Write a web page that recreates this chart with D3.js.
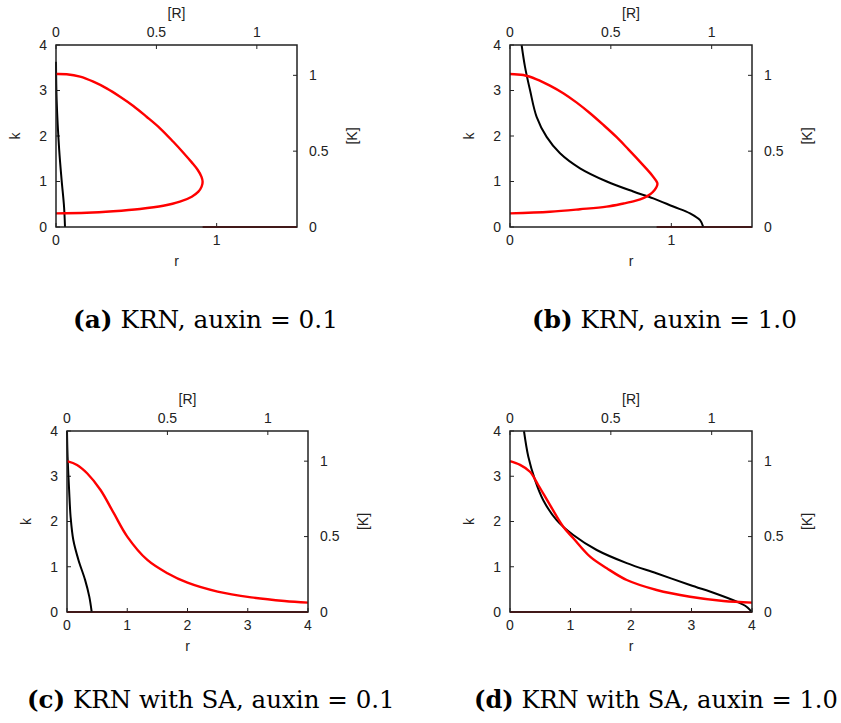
<!DOCTYPE html>
<html lang="en">
<head>
<meta charset="UTF-8">
<title>KRN phase planes</title>
<script src="https://d3js.org/d3.v7.min.js"></script>
<style>
    body { margin: 0; background: #fff; }
    .tick-label { font-family: "Liberation Sans", Arial, sans-serif; font-size: 14px; fill: #222; }
    .caption { font-family: "DejaVu Serif", serif; font-size: 24px; fill: #000; }
</style>
</head>
<body>
<svg id="fig" width="841" height="723"></svg>
<script>
// tick values
const kTicks = [0, 1, 2, 3, 4];
const rTicksShort = [0, 1];
const rTicksLong = [0, 1, 2, 3, 4];
const bigRTicks = [0, 0.5, 1];
const bigKTicks = [0, 0.5, 1];

// red curves: [R] vs [K] (top / right axes)
const redA = [[0, 1.009], [0.053, 1.007], [0.120, 0.991], [0.186, 0.958], [0.252, 0.914], [0.319, 0.859],
    [0.385, 0.798], [0.451, 0.727], [0.518, 0.651], [0.584, 0.562], [0.634, 0.490], [0.676, 0.426],
    [0.706, 0.376], [0.724, 0.332], [0.730, 0.299], [0.725, 0.266], [0.709, 0.233], [0.676, 0.2],
    [0.617, 0.167], [0.534, 0.140], [0.418, 0.119], [0.285, 0.104], [0.153, 0.094], [0, 0.090]];
const redB = [[0, 1.009], [0.066, 1.002], [0.132, 0.974], [0.198, 0.932], [0.264, 0.882], [0.331, 0.820],
    [0.397, 0.750], [0.463, 0.673], [0.529, 0.592], [0.587, 0.512], [0.636, 0.443], [0.677, 0.383],
    [0.707, 0.337], [0.724, 0.306], [0.731, 0.288], [0.728, 0.268], [0.716, 0.243], [0.695, 0.216],
    [0.664, 0.192], [0.620, 0.172], [0.563, 0.155], [0.479, 0.134], [0.347, 0.117], [0.198, 0.101], [0, 0.090]];
const redC = [[0, 1.0], [0.05, 0.975], [0.1, 0.92], [0.167, 0.809], [0.233, 0.655], [0.3, 0.5],
    [0.4, 0.345], [0.5, 0.257], [0.6, 0.194], [0.75, 0.135], [0.917, 0.097], [1.083, 0.073], [1.2, 0.062]];
const redD = [[0, 1.0], [0.05, 0.975], [0.099, 0.93], [0.14, 0.842], [0.198, 0.71], [0.264, 0.565],
    [0.314, 0.489], [0.397, 0.367], [0.48, 0.29], [0.579, 0.212], [0.727, 0.146], [0.893, 0.101],
    [1.058, 0.073], [1.2, 0.062]];

// dark red branch along [K] = 0
const darkA = [[0.73, 0], [1.2, 0]];
const darkB = [[0.727, 0], [1.2, 0]];
const darkC = [[0, 0], [1.2, 0]];
const darkD = [[0, 0], [1.2, 0]];

// black curves: r vs k (bottom / left axes)
const blackA = [[0.0, 3.63], [0.004, 2.79], [0.02, 1.69], [0.035, 1.03], [0.05, 0.45], [0.056, 0]];
const blackB = [[0.072, 4.0], [0.093, 3.52], [0.124, 3.01], [0.165, 2.42], [0.227, 1.98], [0.31, 1.62],
    [0.434, 1.29], [0.60, 1.0], [0.764, 0.78], [0.888, 0.63], [1.012, 0.45], [1.116, 0.30], [1.178, 0.15], [1.198, 0]];
const blackC = [[0, 4.0], [0.01, 3.43], [0.035, 2.7], [0.06, 2.1], [0.105, 1.59], [0.19, 1.15],
    [0.3, 0.71], [0.37, 0.34], [0.41, 0]];
const blackD = [[0.231, 4.0], [0.303, 3.43], [0.413, 2.92], [0.55, 2.47], [0.771, 2.03], [1.046, 1.70],
    [1.433, 1.37], [1.93, 1.08], [2.42, 0.855], [2.975, 0.597], [3.42, 0.398], [3.75, 0.227],
    [3.91, 0.117], [3.995, 0]];

const captions = [
    ["(a)", " KRN, auxin = 0.1"],
    ["(b)", " KRN, auxin = 1.0"],
    ["(c)", " KRN with SA, auxin = 0.1"],
    ["(d)", " KRN with SA, auxin = 1.0"]
];

const svg = d3.select("#fig");
svg.append("rect").attr("width", 841).attr("height", 723).attr("fill", "#fff");

function drawPanel(p) {
    const x1 = p.x + p.w, y1 = p.y + p.h;
    const xr = d3.scaleLinear().domain([0, p.rMax]).range([p.x, x1]);
    const yk = d3.scaleLinear().domain([0, 4]).range([y1, p.y]);
    const xR = d3.scaleLinear().domain([0, 1.2]).range([p.x, x1]);
    const yK = d3.scaleLinear().domain([0, 1.2]).range([y1, p.y]);

    const g = svg.append("g");
    const tl = 4;

    // left k ticks
    p.kTicks.forEach(v => {
        g.append("line").attr("x1", p.x).attr("x2", p.x + tl).attr("y1", yk(v)).attr("y2", yk(v))
            .attr("stroke", "#222");
        g.append("text").attr("class", "tick-label").attr("x", p.x - 9).attr("y", yk(v))
            .attr("dy", "0.35em").attr("text-anchor", "end").text(v);
    });
    // bottom r ticks
    p.rTicks.forEach(v => {
        g.append("line").attr("x1", xr(v)).attr("x2", xr(v)).attr("y1", y1).attr("y2", y1 - tl)
            .attr("stroke", "#222");
        g.append("text").attr("class", "tick-label").attr("x", xr(v)).attr("y", y1 + 13)
            .attr("dy", "0.35em").attr("text-anchor", "middle").text(v);
    });
    // top [R] ticks
    bigRTicks.forEach(v => {
        g.append("line").attr("x1", xR(v)).attr("x2", xR(v)).attr("y1", p.y).attr("y2", p.y + tl)
            .attr("stroke", "#222");
        g.append("text").attr("class", "tick-label").attr("x", xR(v)).attr("y", p.y - 13)
            .attr("dy", "0.35em").attr("text-anchor", "middle").text(v);
    });
    // right [K] ticks
    bigKTicks.forEach(v => {
        g.append("line").attr("x1", x1).attr("x2", x1 - tl).attr("y1", yK(v)).attr("y2", yK(v))
            .attr("stroke", "#222");
        g.append("text").attr("class", "tick-label").attr("x", x1 + 12).attr("y", yK(v))
            .attr("dy", "0.35em").attr("text-anchor", "start").text(v);
    });

    // axis titles
    const cy = (p.y + y1) / 2, cx = (p.x + x1) / 2;
    g.append("text").attr("class", "tick-label")
        .attr("transform", `translate(${p.x - 41},${cy}) rotate(-90)`)
        .attr("dy", "0.35em").attr("text-anchor", "middle").text("k");
    g.append("text").attr("class", "tick-label")
        .attr("transform", `translate(${x1 + 55},${cy}) rotate(-90)`)
        .attr("dy", "0.35em").attr("text-anchor", "middle").text("[K]");
    g.append("text").attr("class", "tick-label").attr("x", cx).attr("y", p.y - 32)
        .attr("dy", "0.35em").attr("text-anchor", "middle").text("[R]");
    g.append("text").attr("class", "tick-label").attr("x", cx).attr("y", y1 + 34)
        .attr("dy", "0.35em").attr("text-anchor", "middle").text("r");

    // curves
    const lineRk = d3.line().x(d => xr(d[0])).y(d => yk(d[1])).curve(d3.curveCatmullRom.alpha(0.5));
    const lineRK = d3.line().x(d => xR(d[0])).y(d => yK(d[1])).curve(d3.curveCatmullRom.alpha(0.5));

    g.append("path").attr("d", lineRK(p.dark)).attr("fill", "none")
        .attr("stroke", "#a00000").attr("stroke-width", 2.2);
    g.append("path").attr("d", lineRk(p.black)).attr("fill", "none")
        .attr("stroke", "#000").attr("stroke-width", 2);
    g.append("path").attr("d", lineRK(p.red)).attr("fill", "none")
        .attr("stroke", "#ff0000").attr("stroke-width", 2.4);

    // frame
    g.append("rect").attr("x", p.x).attr("y", p.y).attr("width", p.w).attr("height", p.h)
        .attr("fill", "none").attr("stroke", "#222").attr("stroke-width", 1.5);

    // caption, sized to the width it takes in the original
    const cap = svg.append("text").attr("class", "caption").attr("x", p.capX).attr("y", p.capY);
    cap.append("tspan").attr("font-weight", "bold").text(p.caption[0]);
    cap.append("tspan").text(p.caption[1]);
    const len = cap.node().getComputedTextLength();
    cap.style("font-size", (24 * p.capW / len).toFixed(2) + "px");
}

const panels = [
    { x: 56, y: 45, w: 241, h: 182, rMax: 1.5, rTicks: rTicksShort, kTicks: kTicks,
      red: redA, dark: darkA, black: blackA, caption: captions[0], capX: 73, capY: 328, capW: 265 },
    { x: 510, y: 45, w: 242, h: 182, rMax: 1.5, rTicks: rTicksShort, kTicks: kTicks,
      red: redB, dark: darkB, black: blackB, caption: captions[1], capX: 532, capY: 328, capW: 265 },
    { x: 67, y: 431, w: 241, h: 181, rMax: 4, rTicks: rTicksLong, kTicks: kTicks,
      red: redC, dark: darkC, black: blackC, caption: captions[2], capX: 27, capY: 708, capW: 368 },
    { x: 510, y: 431, w: 242, h: 181, rMax: 4, rTicks: rTicksLong, kTicks: kTicks,
      red: redD, dark: darkD, black: blackD, caption: captions[3], capX: 474, capY: 708, capW: 364 }
];

panels.forEach(drawPanel);
</script>
</body>
</html>
